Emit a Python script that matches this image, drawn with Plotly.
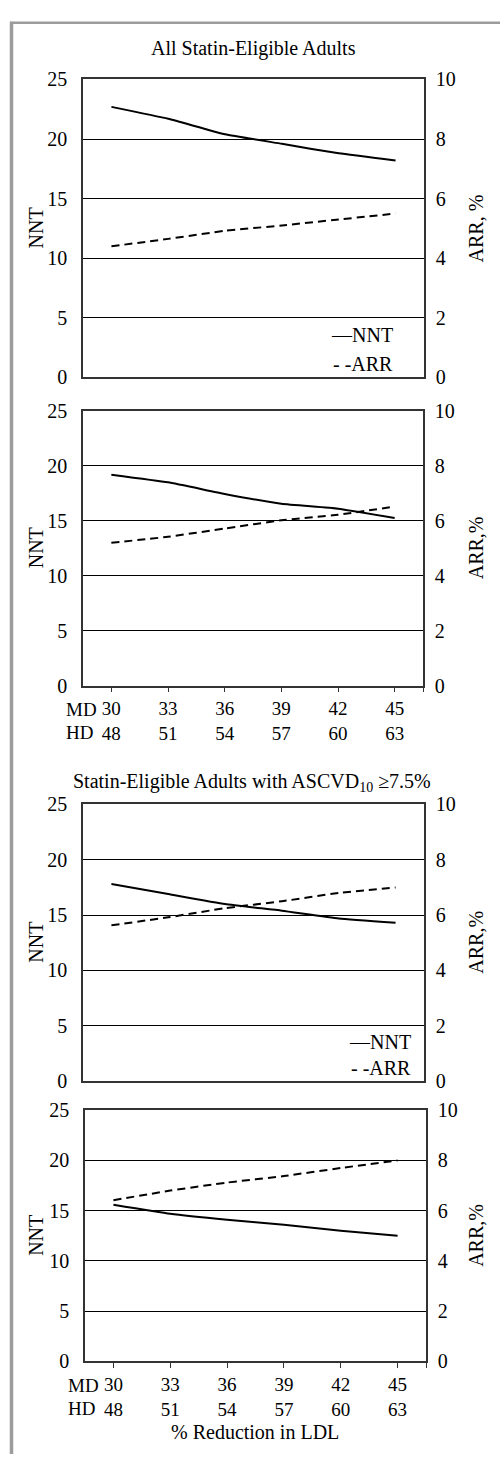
import plotly.graph_objects as go

# ---------------- data ----------------
md_reduction = [30, 33, 36, 39, 42, 45]
hd_reduction = [48, 51, 54, 57, 60, 63]

nnt_all_md = [22.7, 21.7, 20.4, 19.6, 18.8, 18.2]
arr_all_md = [4.4, 4.65, 4.92, 5.1, 5.3, 5.5]

nnt_all_hd = [19.2, 18.5, 17.45, 16.55, 16.1, 15.25]
arr_all_hd = [5.2, 5.42, 5.72, 6.02, 6.22, 6.52]

nnt_hi_md = [17.8, 16.9, 16.0, 15.4, 14.7, 14.3]
arr_hi_md = [5.63, 5.92, 6.25, 6.5, 6.8, 7.0]

nnt_hi_hd = [15.6, 14.7, 14.1, 13.6, 13.0, 12.5]
arr_hi_hd = [6.42, 6.8, 7.12, 7.38, 7.7, 8.0]

title_top = "All Statin-Eligible Adults"
title_mid = "Statin-Eligible Adults with ASCVD<sub>10</sub> \u22657.5%"
x_title = "% Reduction in LDL"

W, H = 500, 1465
FONT = "Liberation Serif, Times New Roman, serif"
FS = 20


def px(x):
    return x / W


def py(y):
    return 1 - y / H


# panel boxes in pixels: (left, right, top, bottom)
panels = [
    (83, 424, 69.5, 372),
    (83, 423, 406, 685),
    (83, 424, 805.5, 1086.4),
    (85, 426, 1116, 1371),
]
series = [
    (nnt_all_md, arr_all_md),
    (nnt_all_hd, arr_all_hd),
    (nnt_hi_md, arr_hi_md),
    (nnt_hi_hd, arr_hi_hd),
]
show_xlabels = [False, True, False, True]
arr_titles = ["ARR, %", "ARR,%", "ARR,%", "ARR,%"]

fig = go.Figure()
layout = dict(
    width=W, height=H,
    margin=dict(l=0, r=0, t=0, b=0),
    paper_bgcolor="white", plot_bgcolor="white",
    showlegend=False,
    font=dict(family=FONT, size=FS, color="black"),
)

step = md_reduction[1] - md_reduction[0]
x_lo = md_reduction[0] - step / 2
x_hi = md_reduction[-1] + step / 2
ticktext = [f"{m}<br>{h}" for m, h in zip(md_reduction, hd_reduction)]

annotations = []
for i, ((l, r, t, b), (nnt, arr)) in enumerate(zip(panels, series)):
    k = i + 1
    xa = "x" if k == 1 else f"x{k}"
    ya_l = 2 * i + 1
    ya_r = 2 * i + 2
    yl = "y" if ya_l == 1 else f"y{ya_l}"
    yr = f"y{ya_r}"
    xkey = "xaxis" if k == 1 else f"xaxis{k}"
    ylkey = "yaxis" if ya_l == 1 else f"yaxis{ya_l}"
    yrkey = f"yaxis{ya_r}"

    xdict = dict(
        domain=[px(l), px(r)], anchor=yl, range=[x_lo, x_hi],
        showline=True, linecolor="#333", linewidth=1.5, mirror=True,
        showgrid=False, zeroline=False, fixedrange=True,
    )
    if show_xlabels[i]:
        xdict.update(
            tickmode="array", tickvals=md_reduction, ticktext=ticktext,
            showticklabels=True, ticks="outside", ticklen=5, tickwidth=1.3,
            tickcolor="#333", tickfont=dict(size=19, family=FONT),
            minor=dict(tick0=x_hi, dtick=100, ticks="outside", ticklen=5,
                       tickwidth=1.3, tickcolor="#333", showgrid=False),
        )
    else:
        xdict.update(showticklabels=False, ticks="", tickmode="array",
                     tickvals=md_reduction)
    layout[xkey] = xdict
    layout[ylkey] = dict(
        domain=[py(b), py(t)], anchor=xa, range=[0, 25], dtick=5,
        showgrid=True, gridcolor="black", gridwidth=1.3,
        showline=True, linecolor="#333", linewidth=1.5,
        zeroline=False, ticks="", ticklabelstandoff=10,
        tickfont=dict(size=FS, family=FONT), fixedrange=True,
    )
    layout[yrkey] = dict(
        overlaying=yl, side="right", anchor=xa, range=[0, 10], dtick=2,
        showgrid=False, showline=True, linecolor="#333", linewidth=1.5,
        zeroline=False, ticks="", ticklabelstandoff=6,
        tickfont=dict(size=FS, family=FONT), fixedrange=True,
    )

    fig.add_trace(go.Scatter(
        x=md_reduction, y=nnt, xaxis=xa, yaxis=yl, mode="lines",
        name="NNT", line=dict(color="black", width=2, shape="spline", smoothing=0.4),
    ))
    fig.add_trace(go.Scatter(
        x=md_reduction, y=arr, xaxis=xa, yaxis=yr, mode="lines",
        name="ARR", line=dict(color="black", width=2, dash="8px,5px",
                              shape="spline", smoothing=0.4),
    ))

    cy = (t + b) / 2
    annotations.append(dict(
        text="NNT", x=px(36), y=py(cy), xref="paper", yref="paper",
        textangle=-90, showarrow=False, xanchor="center", yanchor="middle",
        font=dict(size=FS, family=FONT),
    ))
    annotations.append(dict(
        text=arr_titles[i], x=px(476), y=py(cy), xref="paper", yref="paper",
        textangle=-90, showarrow=False, xanchor="center", yanchor="middle",
        font=dict(size=FS, family=FONT),
    ))
    if show_xlabels[i]:
        row1 = b + 24
        annotations.append(dict(
            text="MD", x=px(l - 19), y=py(row1), xref="paper", yref="paper",
            showarrow=False, xanchor="left", yanchor="middle",
            font=dict(size=19, family=FONT),
        ))
        annotations.append(dict(
            text="HD", x=px(l - 19), y=py(row1 + 24), xref="paper", yref="paper",
            showarrow=False, xanchor="left", yanchor="middle",
            font=dict(size=19, family=FONT),
        ))

# legends
for (lx, ly1, ly2) in [(395, 329, 358), (413, 1047, 1073)]:
    annotations.append(dict(
        text="\u2014NNT", x=px(lx), y=py(ly1), xref="paper", yref="paper",
        showarrow=False, xanchor="right", yanchor="middle",
        font=dict(size=FS, family=FONT),
    ))
    annotations.append(dict(
        text="- -ARR", x=px(lx), y=py(ly2), xref="paper", yref="paper",
        showarrow=False, xanchor="right", yanchor="middle",
        font=dict(size=FS, family=FONT),
    ))

# titles
annotations.append(dict(
    text=title_top, x=px(253), y=py(38), xref="paper", yref="paper",
    showarrow=False, xanchor="center", yanchor="middle", font=dict(size=FS, family=FONT),
))
annotations.append(dict(
    text=title_mid, x=px(252), y=py(783), xref="paper", yref="paper",
    showarrow=False, xanchor="center", yanchor="middle", font=dict(size=FS, family=FONT),
))
annotations.append(dict(
    text=x_title, x=px(255), y=py(1443), xref="paper", yref="paper",
    showarrow=False, xanchor="center", yanchor="middle", font=dict(size=FS, family=FONT),
))

layout["annotations"] = annotations
layout["shapes"] = [
    dict(type="line", xref="paper", yref="paper", x0=px(11.5), x1=px(11.5),
         y0=0, y1=py(11), line=dict(color="#9c9c9c", width=3.5)),
    dict(type="line", xref="paper", yref="paper", x0=px(10), x1=1,
         y0=py(12), y1=py(12), line=dict(color="#9c9c9c", width=2.5)),
]

fig.update_layout(**layout)
fig.write_html("out.html",
               config={"displayModeBar": False},
               post_script="document.body.style.margin='0';document.body.style.overflow='hidden';")
